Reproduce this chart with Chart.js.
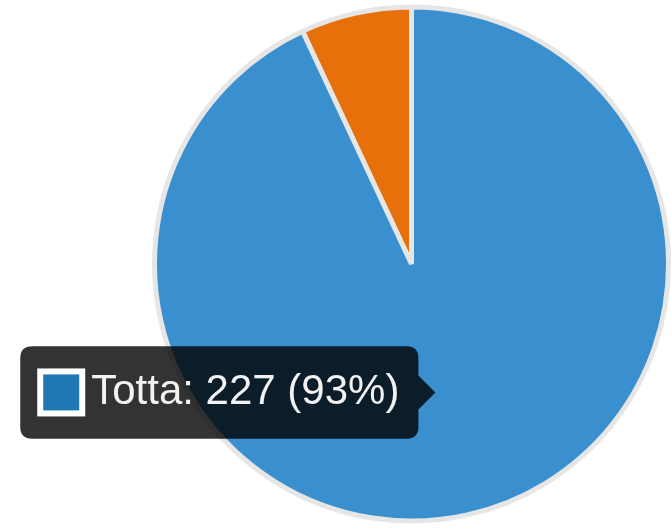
<!DOCTYPE html>
<html>
<head>
<meta charset="utf-8">
<script src="https://cdn.jsdelivr.net/npm/chart.js@4"></script>
<style>
  html, body { margin: 0; padding: 0; background: #fff; }
  #wrap { width: 671px; height: 528px; }
</style>
</head>
<body>
<div id="wrap"><canvas id="chart"></canvas></div>
<script>
const labels = ['Totta', 'Altri'];
const counts = [227, 17];
const baseColors = ['#1f77b4', '#e8700a'];
const shownColors = ['#3a8fce', '#e8700a'];

const total = counts.reduce((a, b) => a + b, 0);

// same as 'average' but a few px lower, like the original
Chart.Tooltip.positioners.lower = function (elements, eventPosition) {
  const p = Chart.Tooltip.positioners.average.call(this, elements, eventPosition);
  return p ? { x: p.x, y: p.y + 3 } : false;
};

const chart = new Chart(document.getElementById('chart'), {
  type: 'pie',
  data: {
    labels: labels,
    datasets: [{
      data: counts,
      backgroundColor: baseColors,
      hoverBackgroundColor: shownColors,
      borderColor: '#e6e6e6',
      hoverBorderColor: '#e6e6e6',
      borderWidth: 5,
      hoverBorderWidth: 5,
      hoverOffset: 0
    }]
  },
  options: {
    responsive: true,
    maintainAspectRatio: false,
    animation: false,
    events: [],
    layout: { padding: { left: 152, top: 2, bottom: 2, right: 0 } },
    plugins: {
      legend: { display: false },
      tooltip: {
        position: 'lower',
        backgroundColor: 'rgba(0,0,0,0.8)',
        bodyFont: { family: 'Arial, "Liberation Sans", sans-serif', size: 42 },
        bodyColor: '#f2f2f2',
        padding: { top: 21, bottom: 21, left: 22, right: 19 },
        cornerRadius: 12,
        caretSize: 17,
        caretPadding: 4,
        boxWidth: 38,
        boxHeight: 38,
        boxPadding: 9,
        callbacks: {
          title: () => '',
          label: (ctx) => {
            const pct = Math.round(ctx.raw / total * 100);
            return ctx.label + ': ' + ctx.raw + ' (' + pct + '%)';
          },
          labelColor: (ctx) => ({
            borderColor: '#ffffff',
            backgroundColor: baseColors[ctx.dataIndex],
            borderWidth: 10
          })
        }
      }
    }
  }
});

// show the tooltip on the first slice
const active = [{ datasetIndex: 0, index: 0 }];
chart.setActiveElements(active);
chart.tooltip.setActiveElements(active, { x: 0, y: 0 });
chart.update();
</script>
</body>
</html>
